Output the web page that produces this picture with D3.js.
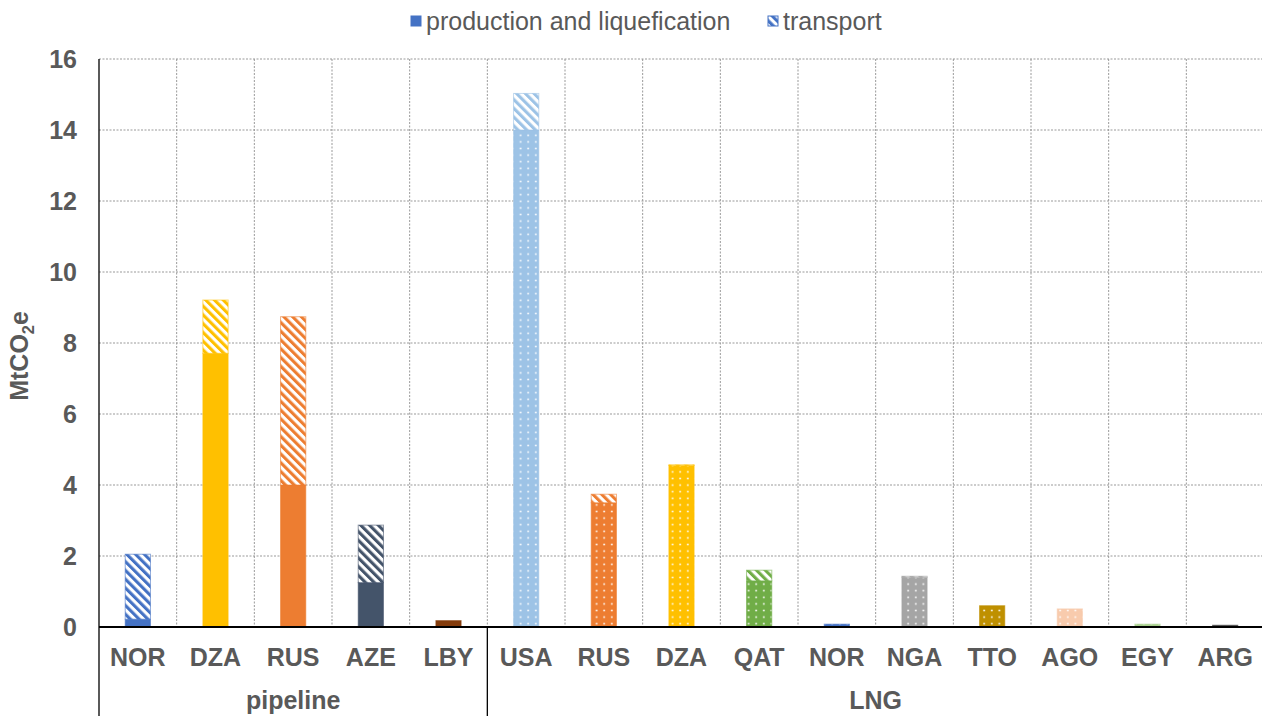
<!DOCTYPE html>
<html>
<head>
<meta charset="utf-8">
<script src="https://cdn.jsdelivr.net/npm/d3@7"></script>
<style>
  html, body { margin: 0; padding: 0; background: #fff; }
  svg { display: block; font-family: "Liberation Sans", Arial, sans-serif; }
</style>
</head>
<body>
<svg id="chart" width="1262" height="716"></svg>
<script>
// Emissions per supplier (MtCO2e), split into production/liquefication and transport
const pipelineCountries = ["NOR", "DZA", "RUS", "AZE", "LBY"];
const pipelineProduction = [0.22, 7.71, 4.0, 1.25, 0.18];
const pipelineTransport = [1.83, 1.50, 4.74, 1.62, 0];
const pipelineColors = ["#4472C4", "#FFC000", "#ED7D31", "#44546A", "#843C0C"];

const lngCountries = ["USA", "RUS", "DZA", "QAT", "NOR", "NGA", "TTO", "AGO", "EGY", "ARG"];
const lngProduction = [14.0, 3.50, 4.55, 1.30, 0.08, 1.40, 0.60, 0.51, 0.08, 0.05];
const lngTransport = [1.03, 0.24, 0.02, 0.30, 0, 0.03, 0, 0, 0, 0];
const lngColors = ["#9DC3E6", "#ED7D31", "#FFC000", "#70AD47", "#4472C4", "#A5A5A5", "#BF9000", "#F8CBAD", "#A9D18E", "#404040"];

const groupNames = ["pipeline", "LNG"];
const yTicks = [0, 2, 4, 6, 8, 10, 12, 14, 16];
const legendLabels = ["production and liquefication", "transport"];

const rows = [
  ...pipelineCountries.map((c, i) => ({ key: "pipeline-" + i, country: c, group: "pipeline", prod: pipelineProduction[i], trans: pipelineTransport[i], color: pipelineColors[i] })),
  ...lngCountries.map((c, i) => ({ key: "LNG-" + i, country: c, group: "LNG", prod: lngProduction[i], trans: lngTransport[i], color: lngColors[i] }))
];

const svg = d3.select("#chart");
const margin = { left: 99, right: 1264, top: 59, bottom: 627 };
const textColor = "#595959";
const fontSize = 25;

const x = d3.scaleBand().domain(rows.map(d => d.key)).range([margin.left, margin.right])
  .paddingInner(0.675).paddingOuter(0.3375);
const y = d3.scaleLinear().domain([0, 16]).range([margin.bottom, margin.top]);

// patterns: diagonal hatching for transport, white dots for LNG production
const defs = svg.append("defs");
function stripePattern(id, color) {
  const p = defs.append("pattern").attr("id", id).attr("patternUnits", "userSpaceOnUse")
    .attr("width", 6.2).attr("height", 6.2).attr("patternTransform", "rotate(-45)");
  p.append("rect").attr("width", 6.2).attr("height", 6.2).attr("fill", "#fff");
  p.append("rect").attr("width", 3.1).attr("height", 6.2).attr("fill", color);
}
function dotPattern(id, color) {
  const p = defs.append("pattern").attr("id", id).attr("patternUnits", "userSpaceOnUse")
    .attr("width", 7.6).attr("height", 6.6);
  p.append("rect").attr("width", 7.6).attr("height", 6.6).attr("fill", color);
  p.append("circle").attr("cx", 3.8).attr("cy", 3.3).attr("r", 1.05).attr("fill", "#fff").attr("fill-opacity", 0.85);
}
rows.forEach((d, i) => {
  stripePattern("stripe-" + i, d.color);
  if (d.group === "LNG") dotPattern("dot-" + i, d.color);
});
stripePattern("stripe-legend", "#4472C4");

// gridlines
const grid = svg.append("g");
grid.selectAll("line.h").data(yTicks.filter(t => t > 0)).join("line")
  .attr("x1", margin.left).attr("x2", margin.right)
  .attr("y1", d => y(d)).attr("y2", d => y(d))
  .attr("stroke", "#999").attr("stroke-width", 1).attr("stroke-dasharray", "2,1.5");
const step = x.step();
grid.selectAll("line.v").data(d3.range(1, rows.length)).join("line")
  .attr("x1", d => margin.left + d * step).attr("x2", d => margin.left + d * step)
  .attr("y1", margin.top).attr("y2", margin.bottom)
  .attr("stroke", "#999").attr("stroke-width", 1).attr("stroke-dasharray", "2,1.5");

// bars
const bars = svg.append("g");
rows.forEach((d, i) => {
  const bx = x(d.key), bw = x.bandwidth();
  bars.append("rect")
    .attr("x", bx).attr("width", bw)
    .attr("y", y(d.prod)).attr("height", y(0) - y(d.prod))
    .attr("fill", d.group === "LNG" ? `url(#dot-${i})` : d.color)
    .attr("stroke", d.color).attr("stroke-opacity", 0.6).attr("stroke-width", 1);
  if (d.trans > 0) {
    bars.append("rect")
      .attr("x", bx).attr("width", bw)
      .attr("y", y(d.prod + d.trans)).attr("height", y(d.prod) - y(d.prod + d.trans))
      .attr("fill", `url(#stripe-${i})`)
      .attr("stroke", d.color).attr("stroke-opacity", 0.6).attr("stroke-width", 1);
  }
});

// y axis
const yAxis = svg.append("g").attr("transform", `translate(${margin.left},0)`)
  .call(d3.axisLeft(y).tickValues(yTicks).tickSize(0).tickPadding(22).tickFormat(d3.format("d")));
yAxis.select(".domain").remove();
yAxis.selectAll("text").attr("font-size", fontSize).attr("font-weight", "bold")
  .attr("fill", textColor).attr("font-family", '"Liberation Sans", Arial, sans-serif');

// axis lines
svg.append("line").attr("x1", margin.left).attr("x2", margin.left)
  .attr("y1", margin.top).attr("y2", 716).attr("stroke", "#000").attr("stroke-width", 1.3);
svg.append("line").attr("x1", margin.left).attr("x2", margin.right)
  .attr("y1", y(0)).attr("y2", y(0)).attr("stroke", "#000").attr("stroke-width", 2);
const dividerX = margin.left + pipelineCountries.length * step;
svg.append("line").attr("x1", dividerX).attr("x2", dividerX)
  .attr("y1", y(0)).attr("y2", 716).attr("stroke", "#000").attr("stroke-width", 1.3);

// category labels
svg.append("g").selectAll("text").data(rows).join("text")
  .attr("x", d => x(d.key) + x.bandwidth() / 2).attr("y", 666)
  .attr("text-anchor", "middle").attr("font-size", fontSize).attr("font-weight", "bold")
  .attr("fill", textColor).text(d => d.country);

// group labels
const groupSpans = [
  [margin.left, dividerX],
  [dividerX, margin.right]
];
svg.append("g").selectAll("text").data(groupNames).join("text")
  .attr("x", (d, i) => (groupSpans[i][0] + groupSpans[i][1]) / 2).attr("y", 709)
  .attr("text-anchor", "middle").attr("font-size", fontSize).attr("font-weight", "bold")
  .attr("fill", textColor).text(d => d);

// y axis title
const yTitle = svg.append("text")
  .attr("transform", `translate(28,356) rotate(-90)`)
  .attr("text-anchor", "middle").attr("font-size", fontSize).attr("font-weight", "bold")
  .attr("fill", textColor);
yTitle.append("tspan").text("MtCO");
yTitle.append("tspan").attr("font-size", fontSize * 0.65).attr("dy", 6).text("2");
yTitle.append("tspan").attr("dy", -6).text("e");

// legend
const legend = svg.append("g");
const legendItems = [
  { label: legendLabels[0], fill: "#4472C4", x: 411 },
  { label: legendLabels[1], fill: "url(#stripe-legend)", x: 768 }
];
legendItems.forEach(item => {
  legend.append("rect").attr("x", item.x).attr("y", 16).attr("width", 10).attr("height", 10)
    .attr("fill", item.fill).attr("stroke", "#4472C4").attr("stroke-width", 1);
  legend.append("text").attr("x", item.x + 15).attr("y", 30)
    .attr("font-size", fontSize).attr("fill", textColor).text(item.label);
});
</script>
</body>
</html>
